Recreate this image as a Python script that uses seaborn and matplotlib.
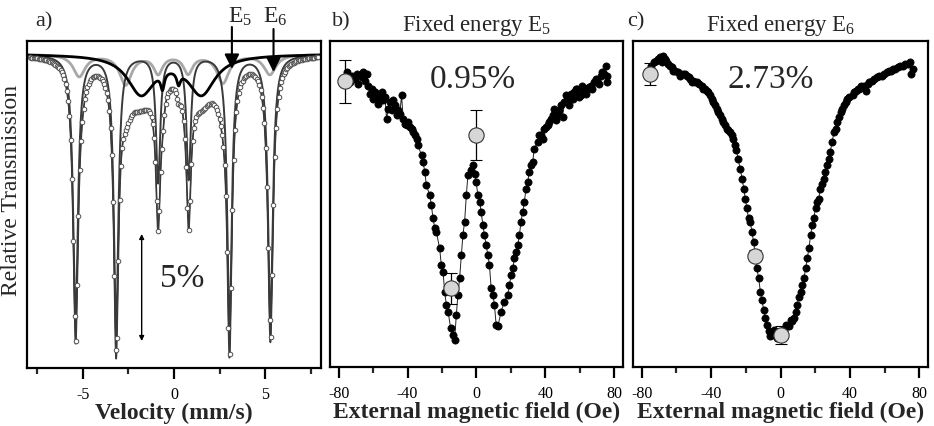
import numpy as np
import pandas as pd
import matplotlib
matplotlib.use("Agg")
import matplotlib.pyplot as plt
import seaborn as sns

# ---------------- data ----------------
# Panel a: Mossbauer spectrum components (line position mm/s, depth, half width)
baseline_a = 0.955
dark_pos = [-5.39, -3.17, -0.87, 0.80, 3.04, 5.28]
dark_depth = [0.80, 0.83, 0.38, 0.37, 0.82, 0.79]
dark_hwhm = [0.16, 0.15, 0.14, 0.14, 0.15, 0.16]
gray_pos = [-5.19, -2.65, -0.87, 0.77, 2.68, 5.25]
gray_depth = [0.066, 0.09, 0.055, 0.055, 0.085, 0.06]
gray_hwhm = [0.40, 0.40, 0.30, 0.30, 0.40, 0.40]
broad_pos = [-1.8, -0.63, 0.25, 1.5]
broad_depth = [0.117, 0.048, 0.036, 0.117]
broad_hwhm = [0.9, 0.12, 0.12, 0.9]
n_channels = 226
v_min, v_max = -7.9, 7.9

# Panel b: fixed energy E5
b_field = [-75.3, -73.4, -72.4, -70.5, -69.5, -68.5, -66.6, -65.7, -64.7, -63.7, -62.8, -61.8,
           -60.8, -59.9, -58.9, -57.9, -57.0, -56.0, -55.1, -54.1, -53.1, -52.2, -51.2, -50.2,
           -49.3, -48.3, -47.4, -46.4, -45.4, -44.5, -43.5, -42.5, -41.6, -40.6, -39.7, -38.7,
           -37.7, -36.8, -35.8, -34.8, -33.9, -31.9, -31.0, -30.0, -29.1, -27.1, -26.2, -25.2,
           -24.2, -23.3, -21.4, -20.4, -19.4, -18.5, -17.5, -16.5, -15.0, -13.6, -12.7, -11.7,
           -10.8, -9.8, -8.8, -7.9, -6.9, -5.9, -5.0, -3.1, -2.1, -1.1, -0.2, 0.8, 1.8, 2.7,
           3.7, 4.6, 5.6, 6.6, 7.5, 8.5, 9.5, 10.4, 11.4, 12.4, 14.3, 16.2, 18.1, 19.1, 20.1,
           21.0, 22.0, 22.9, 23.9, 24.9, 25.8, 26.8, 27.8, 28.7, 29.7, 30.6, 31.6, 32.6, 33.5,
           35.5, 36.4, 37.4, 38.4, 39.3, 40.3, 41.2, 42.2, 43.2, 44.1, 45.1, 46.1, 47.0, 48.0,
           48.9, 49.9, 50.9, 51.8, 52.8, 53.8, 54.7, 55.7, 56.7, 57.6, 58.6, 59.5, 60.5, 61.5,
           62.4, 63.4, 64.4, 65.3, 66.3, 67.2, 68.2, 69.2, 70.1, 71.1, 72.1, 73.0, 74.0, 75.0,
           75.5, 75.9]
b_signal = [0.900, 0.870, 0.890, 0.880, 0.895, 0.865, 0.885, 0.900, 0.875, 0.895, 0.860, 0.835,
            0.850, 0.820, 0.840, 0.825, 0.805, 0.830, 0.840, 0.815, 0.825, 0.760, 0.790, 0.810,
            0.785, 0.815, 0.800, 0.770, 0.785, 0.775, 0.830, 0.760, 0.745, 0.740, 0.750, 0.735,
            0.730, 0.720, 0.710, 0.700, 0.680, 0.650, 0.630, 0.600, 0.560, 0.530, 0.500, 0.460,
            0.430, 0.420, 0.370, 0.320, 0.300, 0.240, 0.200, 0.180, 0.130, 0.110, 0.095, 0.170,
            0.230, 0.280, 0.350, 0.410, 0.450, 0.530, 0.590, 0.605, 0.620, 0.595, 0.570, 0.530,
            0.510, 0.480, 0.440, 0.410, 0.380, 0.350, 0.320, 0.250, 0.230, 0.200, 0.140, 0.135,
            0.180, 0.210, 0.230, 0.260, 0.290, 0.310, 0.340, 0.360, 0.380, 0.410, 0.450, 0.480,
            0.510, 0.550, 0.570, 0.600, 0.620, 0.630, 0.670, 0.690, 0.710, 0.710, 0.700, 0.730,
            0.735, 0.740, 0.750, 0.760, 0.770, 0.790, 0.755, 0.770, 0.785, 0.800, 0.765, 0.810,
            0.830, 0.820, 0.800, 0.835, 0.820, 0.840, 0.850, 0.850, 0.825, 0.830, 0.860, 0.845,
            0.835, 0.850, 0.855, 0.860, 0.850, 0.870, 0.880, 0.875, 0.865, 0.890, 0.900, 0.895,
            0.920, 0.870, 0.890]
b_err_field = [-76.2, -15.0, -0.2]
b_err_signal = [0.873, 0.250, 0.710]
b_err = [0.065, 0.046, 0.075]

# Panel c: fixed energy E6
c_field = [-74.4, -73.0, -71.5, -70.5, -69.6, -68.5, -67.7, -66.7, -65.8, -64.8, -63.8, -62.8,
           -61.8, -60.9, -59.0, -58.0, -56.1, -55.0, -54.1, -53.0, -52.2, -51.2, -50.3, -49.3,
           -48.4, -47.0, -45.5, -44.5, -43.5, -42.5, -41.6, -40.6, -39.7, -38.7, -37.7, -36.8,
           -35.8, -34.8, -33.9, -32.9, -31.9, -31.0, -30.0, -29.0, -28.1, -27.2, -26.5, -25.5,
           -24.4, -23.3, -22.1, -21.2, -20.3, -19.4, -18.4, -17.4, -16.5, -15.5, -13.6, -12.6,
           -11.6, -10.7, -9.7, -8.7, -7.8, -6.8, -5.8, -4.9, -3.9, -2.9, -2.0, -1.0, 0.9, 1.9,
           2.9, 4.8, 5.8, 6.7, 7.7, 8.7, 9.6, 10.6, 11.6, 12.5, 13.5, 14.5, 15.4, 16.4, 17.35,
           18.3, 19.1, 20.2, 21.1, 22.0, 23.0, 24.0, 24.9, 25.9, 26.8, 27.8, 28.7, 29.7, 30.9,
           31.8, 32.8, 33.7, 34.7, 35.7, 36.7, 37.6, 38.6, 39.6, 41.5, 42.4, 43.4, 44.4, 45.4,
           46.3, 47.3, 48.2, 49.2, 50.2, 51.2, 52.5, 54.1, 55.5, 57.0, 58.5, 59.9, 61.4, 62.8,
           63.8, 64.7, 66.2, 67.6, 69.0, 70.5, 72.0, 73.4, 74.5, 75.3, 76.3]
c_signal = [0.920, 0.930, 0.935, 0.940, 0.945, 0.930, 0.950, 0.940, 0.935, 0.925, 0.920, 0.915,
            0.905, 0.905, 0.900, 0.890, 0.895, 0.895, 0.890, 0.885, 0.880, 0.870, 0.875, 0.870,
            0.870, 0.865, 0.860, 0.850, 0.850, 0.845, 0.840, 0.830, 0.820, 0.810, 0.800, 0.790,
            0.780, 0.770, 0.760, 0.750, 0.740, 0.730, 0.725, 0.720, 0.710, 0.700, 0.680, 0.665,
            0.640, 0.610, 0.580, 0.550, 0.520, 0.490, 0.460, 0.450, 0.420, 0.390, 0.310, 0.280,
            0.240, 0.215, 0.185, 0.160, 0.140, 0.120, 0.105, 0.110, 0.125, 0.115, 0.100, 0.105,
            0.120, 0.125, 0.140, 0.135, 0.155, 0.150, 0.160, 0.180, 0.200, 0.225, 0.240, 0.260,
            0.280, 0.310, 0.340, 0.370, 0.410, 0.440, 0.460, 0.490, 0.510, 0.520, 0.550, 0.565,
            0.580, 0.600, 0.620, 0.640, 0.660, 0.690, 0.720, 0.730, 0.750, 0.765, 0.780, 0.790,
            0.800, 0.810, 0.820, 0.825, 0.830, 0.840, 0.845, 0.850, 0.850, 0.860, 0.855, 0.860,
            0.845, 0.865, 0.870, 0.875, 0.880, 0.885, 0.890, 0.890, 0.895, 0.900, 0.905, 0.905,
            0.910, 0.910, 0.915, 0.920, 0.920, 0.925, 0.925, 0.930, 0.895, 0.910]
c_err_field = [-75.4, -14.9, 0.0]
c_err_signal = [0.895, 0.348, 0.108]
c_err = [0.033, 0.017, 0.027]

# ---------------- style ----------------
sns.set_style("white")
plt.rcParams["font.family"] = ["Liberation Serif", "DejaVu Serif"]
plt.rcParams["mathtext.fontset"] = "custom"
plt.rcParams["mathtext.rm"] = "Liberation Serif"
plt.rcParams["axes.unicode_minus"] = False

fig = plt.figure(figsize=(9.34, 4.27), dpi=100)
H = 427.0
W = 934.0
def box(l, r, t, b):
    return [l / W, (H - b) / H, (r - l) / W, (b - t) / H]

ax_a = fig.add_axes(box(27, 321, 42, 369))
ax_b = fig.add_axes(box(330, 623, 42, 368))
ax_c = fig.add_axes(box(633, 928, 42, 368))

DARK = "#3a3a3a"
GRAY = "#a8a8a8"


def lor(v, pos, depth, hwhm):
    out = np.zeros_like(v)
    for p, d, h in zip(pos, depth, hwhm):
        out += d * h ** 2 / ((v - p) ** 2 + h ** 2)
    return out

# ---------------- panel a ----------------
v = np.linspace(-8.0, 8.0, 3001)
dark_c = baseline_a - lor(v, dark_pos, dark_depth, dark_hwhm)
gray_c = baseline_a - lor(v, gray_pos, gray_depth, gray_hwhm)
broad_c = baseline_a - lor(v, broad_pos, broad_depth, broad_hwhm)
total_c = baseline_a - (lor(v, dark_pos, dark_depth, dark_hwhm)
                        + lor(v, gray_pos, gray_depth, gray_hwhm)
                        + lor(v, broad_pos, broad_depth, broad_hwhm))
vch = np.linspace(v_min, v_max, n_channels)
data_a = baseline_a - (lor(vch, dark_pos, dark_depth, dark_hwhm)
                       + lor(vch, gray_pos, gray_depth, gray_hwhm)
                       + lor(vch, broad_pos, broad_depth, broad_hwhm))

sns.lineplot(x=v, y=gray_c, ax=ax_a, color=GRAY, lw=2.0, estimator=None)
sns.lineplot(x=v, y=dark_c, ax=ax_a, color=DARK, lw=1.4, estimator=None)
sns.lineplot(x=v, y=broad_c, ax=ax_a, color="black", lw=2.0, estimator=None)
sns.lineplot(x=v, y=total_c, ax=ax_a, color=DARK, lw=1.2, estimator=None)
sns.lineplot(x=vch, y=data_a, ax=ax_a, color=DARK, lw=0.7, estimator=None,
             marker="o", markersize=3.3, markerfacecolor="white",
             markeredgecolor="#505050", markeredgewidth=0.7)

ax_a.set_xlim(-8.05, 8.05)
ylim = (0.013, 0.994)
ax_a.set_ylim(*ylim)

# E5 / E6 arrows
for xa, ytop, ytip, label, xt in [(3.17, 1.036, 0.910, "5", 2.95), (5.45, 1.030, 0.901, "6", 4.86)]:
    ax_a.annotate("", xy=(xa, ytip), xytext=(xa, ytop), xycoords="data",
                  arrowprops=dict(arrowstyle="-|>", lw=1.5, color="black",
                                  mutation_scale=22, shrinkA=0, shrinkB=0),
                  annotation_clip=False)
    ax_a.text(xt, 1.051, r"$\mathregular{E_%s}$" % label, fontsize=17,
              ha="left", va="baseline", clip_on=False)

# 5% scale arrow
ax_a.annotate("", xy=(-1.77, 0.094), xytext=(-1.77, 0.415),
              arrowprops=dict(arrowstyle="<|-|>", lw=1.0, color="black",
                              mutation_scale=7, shrinkA=0, shrinkB=0))
ax_a.text(0.44, 0.259, "5%", fontsize=24, ha="center", va="baseline")

ax_a.set_xticks([-5, 0, 5])
ax_a.set_xticklabels(["-5", "0", "5"])
ax_a.set_xticks([-7.5, -2.5, 2.5, 7.5], minor=True)
ax_a.set_xlabel("Velocity (mm/s)", fontsize=17, fontweight="bold", labelpad=0)

# ---------------- panels b, c ----------------
for ax, fx, sy, ex, ey, ee, pct, px, title in [
        (ax_b, b_field, b_signal, b_err_field, b_err_signal, b_err, "0.95%", -2.0, "5"),
        (ax_c, c_field, c_signal, c_err_field, c_err_signal, c_err, "2.73%", -5.8, "6")]:
    df = pd.DataFrame({"field": fx, "signal": sy})
    sns.lineplot(data=df, x="field", y="signal", ax=ax, color="#222222", lw=0.7,
                 estimator=None, sort=True, marker="o", markersize=5.2,
                 markerfacecolor="black", markeredgecolor="black", markeredgewidth=0.5)
    ax.errorbar(ex, ey, yerr=ee, fmt="o", ms=11, mfc="#d6d6d6", mec="#333333",
                mew=0.8, ecolor="black", elinewidth=0.9, capsize=4.5, capthick=0.9,
                zorder=5)
    ax.text(px, 0.855, pct, fontsize=24, ha="center", va="baseline")
    ax.set_xlim(-85, 85)
    ax.set_ylim(*ylim)
    ax.set_xticks([-80, -40, 0, 40, 80])
    ax.set_xticklabels(["-80", "-40", "0", "40", "80"])
    ax.set_xticks([-60, -20, 20, 60], minor=True)
    ax.set_xlabel("External magnetic field (Oe)", fontsize=17, fontweight="bold", labelpad=0)
    ax.set_title(r"Fixed energy $\mathregular{E_%s}$" % title, fontsize=16.5, pad=8)

for ax in (ax_a, ax_b, ax_c):
    ax.set_yticks([])
    ax.set_ylabel("")
    for s in ax.spines.values():
        s.set_linewidth(1.6)
        s.set_color("black")
        s.set_visible(True)
    ax.tick_params(axis="x", which="major", direction="out", length=8, width=1.6,
                   labelsize=11.5, pad=5, bottom=True, colors="black")
    ax.tick_params(axis="x", which="minor", direction="out", length=4.5, width=1.6,
                   bottom=True)

fig.text(35 / W, (H - 26) / H, "a)", fontsize=16, ha="left", va="baseline")
fig.text(332 / W, (H - 26) / H, "b)", fontsize=16, ha="left", va="baseline")
fig.text(627 / W, (H - 26) / H, "c)", fontsize=16, ha="left", va="baseline")
fig.text(12 / W, (H - 191) / H, "Relative Transmission", fontsize=17, rotation=90,
         ha="center", va="center")

fig.savefig("out.png", dpi=100)
